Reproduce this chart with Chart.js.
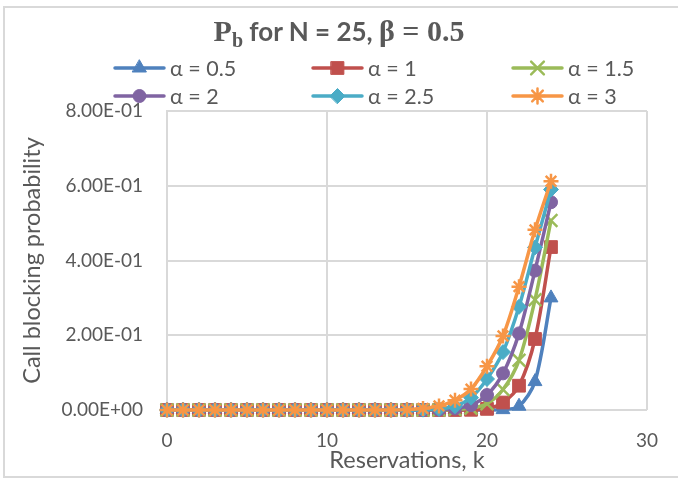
<!DOCTYPE html>
<html>
<head>
<meta charset="utf-8">
<script src="https://cdn.jsdelivr.net/npm/chart.js@4.4.1/dist/chart.umd.min.js"></script>
<style>
  html, body { margin: 0; padding: 0; background: #fff; }
  #wrap { position: relative; width: 678px; height: 480px; overflow: hidden; background: #fff; }
  #frame { position: absolute; left: 3px; top: 6px; width: 690px; height: 472px; border: 2px solid #d9d9d9; box-sizing: border-box; }
  #c { position: absolute; left: 0; top: 0; }
  #title { position: absolute; left: 0; width: 678px; top: 14px; text-align: center; color: #595959; white-space: nowrap; font-weight: bold; }
  #title .serif { font-family: "Liberation Serif", "DejaVu Serif", serif; font-size: 30px; }
  #title .sans { font-family: Lato, "Noto Sans", sans-serif; font-size: 26px; }
  #title sub { font-size: 20px; vertical-align: -6px; line-height: 0; }
  .leg { position: absolute; display: flex; align-items: center; color: #595959; font-family: Lato, "Noto Sans", sans-serif; font-size: 21.5px; white-space: nowrap; }
  .leg canvas { display: block; margin-right: 4px; }
</style>
</head>
<body>
<div id="wrap">
  <div id="frame"></div>
  <canvas id="c" width="678" height="480"></canvas>
  <div id="title"><span class="serif">P<sub>b</sub></span><span class="sans"> for N = 25, </span><span class="serif">β = 0.5</span></div>
  <div id="legend"></div>
</div>
<script>
// ---- data ----
const kValues = [0,1,2,3,4,5,6,7,8,9,10,11,12,13,14,15,16,17,18,19,20,21,22,23,24];
const seriesLabels = ['α = 0.5', 'α = 1', 'α = 1.5', 'α = 2', 'α = 2.5', 'α = 3'];
const pbAlpha05 = [0,0,0,0,0,0,0,0,0,0,0,0,0,0,0,0,0,0,0,0,0,0.001,0.010,0.076,0.300];
const pbAlpha1  = [0,0,0,0,0,0,0,0,0,0,0,0,0,0,0,0,0,0,0,0.0005,0.003,0.020,0.065,0.190,0.436];
const pbAlpha15 = [0,0,0,0,0,0,0,0,0,0,0,0,0,0,0,0,0,0,0.001,0.005,0.017,0.055,0.133,0.295,0.507];
const pbAlpha2  = [0,0,0,0,0,0,0,0,0,0,0,0,0,0,0,0,0,0.001,0.004,0.013,0.040,0.098,0.205,0.373,0.556];
const pbAlpha25 = [0,0,0,0,0,0,0,0,0,0,0,0,0,0,0,0,0.001,0.003,0.010,0.033,0.083,0.155,0.276,0.435,0.590];
const pbAlpha3  = [0,0,0,0,0,0,0,0,0,0,0,0,0,0,0,0.001,0.004,0.011,0.026,0.056,0.117,0.198,0.330,0.482,0.612];
const xTickValues = [0, 10, 20, 30];
const yTickValues = [0, 0.2, 0.4, 0.6, 0.8];
const xAxisTitle = 'Reservations, k';
const yAxisTitle = 'Call blocking probability';

// ---- styles ----
const seriesValues = [pbAlpha05, pbAlpha1, pbAlpha15, pbAlpha2, pbAlpha25, pbAlpha3];
const colors = ['#4F81BD', '#C0504D', '#9BBB59', '#8064A2', '#4BACC6', '#F79646'];
const pStyles = ['triangle', 'rect', 'crossRot', 'circle', 'rectRot', 'star'];
const pRadius = [8, 9, 9, 6.5, 7.5, 7.5];
const pBorder = [1, 1, 2.5, 1, 1, 2.5];
const TXT = '#595959';
const FONT = 'Lato, "Noto Sans", sans-serif';

function sci(v) {
  const s = Number(v).toExponential(2).split('e');
  const n = parseInt(s[1], 10);
  return s[0] + 'E' + (n < 0 ? '-' : '+') + String(Math.abs(n)).padStart(2, '0');
}

const datasets = seriesValues.map((vals, i) => ({
  label: seriesLabels[i],
  data: kValues.map((k, j) => ({ x: k, y: vals[j] })),
  borderColor: colors[i],
  backgroundColor: colors[i],
  pointBackgroundColor: colors[i],
  pointBorderColor: colors[i],
  borderWidth: 3.5,
  pointStyle: pStyles[i],
  pointRadius: pRadius[i],
  pointHoverRadius: pRadius[i],
  pointBorderWidth: pBorder[i],
  tension: 0.3,
  clip: false,
  order: seriesValues.length - 1 - i
}));

new Chart(document.getElementById('c'), {
  type: 'line',
  data: { datasets },
  options: {
    responsive: false,
    animation: false,
    events: [],
    layout: { padding: { left: 0, right: 31, top: 111, bottom: 0 } },
    plugins: { legend: { display: false }, title: { display: false }, tooltip: { enabled: false } },
    scales: {
      x: {
        type: 'linear', min: 0, max: 30,
        afterFit: s => { s.height = 70; },
        afterBuildTicks: s => { s.ticks = xTickValues.map(v => ({ value: v })); },
        grid: { color: '#d9d9d9', lineWidth: 2, drawTicks: false },
        border: { display: false },
        ticks: { color: TXT, font: { family: FONT, size: 19 }, padding: 19, maxRotation: 0 },
        title: { display: true, text: xAxisTitle, color: TXT, font: { family: FONT, size: 23.5 }, padding: { top: 0, bottom: 5 } }
      },
      y: {
        min: 0, max: 0.8,
        afterFit: s => { s.width = 167; },
        afterBuildTicks: s => { s.ticks = yTickValues.map(v => ({ value: v })); },
        grid: { color: '#d9d9d9', lineWidth: 2, drawTicks: false },
        border: { display: true, color: '#d9d9d9', width: 2 },
        ticks: { color: TXT, font: { family: FONT, size: 19 }, padding: 24, callback: v => sci(v) },
        title: { display: true, text: yAxisTitle, color: TXT, font: { family: FONT, size: 23.5 }, padding: { top: 18, bottom: 0 } }
      }
    }
  }
});

// ---- HTML legend (line + marker) ----
const legPos = [[113, 67.5], [311, 67.5], [511, 67.5], [113, 96], [311, 96], [511, 96]];
const legend = document.getElementById('legend');
seriesLabels.forEach((lab, i) => {
  const item = document.createElement('div');
  item.className = 'leg';
  const cv = document.createElement('canvas');
  cv.width = 53; cv.height = 22;
  const ctx = cv.getContext('2d');
  ctx.strokeStyle = colors[i]; ctx.fillStyle = colors[i];
  ctx.lineWidth = 3.5; ctx.lineCap = 'round';
  ctx.beginPath(); ctx.moveTo(2, 11); ctx.lineTo(51, 11); ctx.stroke();
  ctx.lineWidth = pBorder[i];
  Chart.helpers.drawPoint(ctx, { pointStyle: pStyles[i], radius: pRadius[i], borderWidth: pBorder[i], rotation: 0 }, 26.5, 11);
  item.appendChild(cv);
  const t = document.createElement('span');
  t.textContent = lab;
  item.appendChild(t);
  item.style.left = legPos[i][0] + 'px';
  item.style.top = (legPos[i][1] - 13) + 'px';
  item.style.height = '26px';
  legend.appendChild(item);
});
</script>
</body>
</html>
